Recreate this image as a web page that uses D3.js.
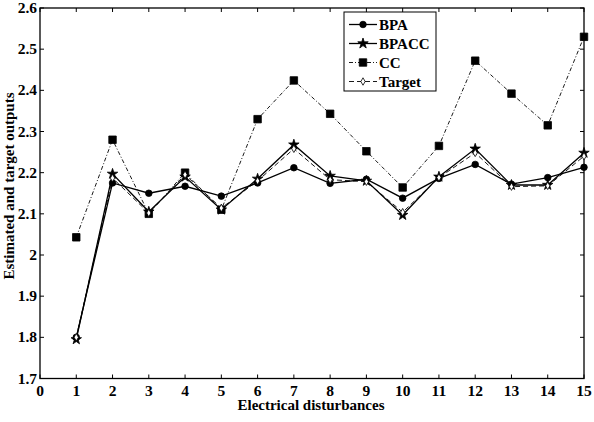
<!DOCTYPE html>
<html><head><meta charset="utf-8">
<script src="https://cdn.jsdelivr.net/npm/d3@7"></script>
<style>body{margin:0;background:#fff}svg{display:block}</style>
</head><body><svg id="c" width="594" height="422"></svg>
<script>
const xs = [1,2,3,4,5,6,7,8,9,10,11,12,13,14,15];
const bpa    = [1.800,2.175,2.150,2.167,2.143,2.175,2.212,2.174,2.184,2.138,2.186,2.220,2.172,2.188,2.213];
const bpacc  = [1.795,2.197,2.105,2.190,2.110,2.185,2.268,2.192,2.180,2.097,2.190,2.258,2.170,2.170,2.248];
const cc     = [2.043,2.280,2.100,2.200,2.110,2.330,2.424,2.343,2.252,2.164,2.265,2.472,2.392,2.315,2.530];
const target = [1.800,2.187,2.102,2.195,2.114,2.180,2.258,2.183,2.178,2.104,2.188,2.248,2.166,2.168,2.240];
const xTicks = d3.range(0,16);
const yTicks = [1.7,1.8,1.9,2,2.1,2.2,2.3,2.4,2.5,2.6];
const seriesNames = ["BPA","BPACC","CC","Target"];

const FONT = "'Liberation Serif', 'Times New Roman', serif";
const svg = d3.select("#c");
const L=40,R=584,T=8,B=378.5;
const x = d3.scaleLinear().domain([0,15]).range([L,R]);
const y = d3.scaleLinear().domain([1.7,2.6]).range([B,T]);

const g = svg.append("g").attr("font-family",FONT).attr("font-weight","bold");
const tl=4;
xTicks.forEach(t=>{
  g.append("line").attr("x1",x(t)).attr("x2",x(t)).attr("y1",B).attr("y2",B-tl).attr("stroke","#000");
  g.append("line").attr("x1",x(t)).attr("x2",x(t)).attr("y1",T).attr("y2",T+tl).attr("stroke","#000");
  g.append("text").attr("x",x(t)).attr("y",B+17).attr("text-anchor","middle").attr("font-size",15.5).text(t);
});
yTicks.forEach(t=>{
  g.append("line").attr("x1",L).attr("x2",L+tl).attr("y1",y(t)).attr("y2",y(t)).attr("stroke","#000");
  g.append("line").attr("x1",R).attr("x2",R-tl).attr("y1",y(t)).attr("y2",y(t)).attr("stroke","#000");
  g.append("text").attr("x",L-3).attr("y",y(t)+5).attr("text-anchor","end").attr("font-size",15.5).text(t===2?"2":d3.format(".1f")(t));
});
g.append("rect").attr("x",L).attr("y",T).attr("width",R-L).attr("height",B-T).attr("fill","none").attr("stroke","#000").attr("stroke-width",1.3);

g.append("text").attr("x",311).attr("y",410).attr("text-anchor","middle").attr("font-size",15).text("Electrical disturbances");
g.append("text").attr("transform",`translate(14,${186}) rotate(-90)`).attr("text-anchor","middle").attr("font-size",15).text("Estimated and target outputs");

const line = d3.line().x((d,i)=>x(xs[i])).y(d=>y(d));
const styles = [
  {data:bpa, dash:null, sym:d3.symbolCircle, size:34, fill:"#000", sw:1.3},
  {data:bpacc, dash:null, sym:d3.symbolStar, size:34, fill:"#000", sw:1.3},
  {data:cc, dash:"4,2,1,2", sym:d3.symbolSquare, size:56, fill:"#000", sw:0.9},
  {data:target, dash:"5,3", sym:d3.symbolDiamond, size:16, fill:"#fff", sw:0.9}
];
styles.forEach(s=>{
  g.append("path").attr("d",line(s.data)).attr("fill","none").attr("stroke","#000").attr("stroke-width",s.sw).attr("stroke-dasharray",s.dash);
});
styles.forEach(s=>{
  g.selectAll(null).data(s.data).enter().append("path")
    .attr("transform",(d,i)=>`translate(${x(xs[i])},${y(d)})`)
    .attr("d",d3.symbol().type(s.sym).size(s.size))
    .attr("fill",s.fill).attr("stroke","#000").attr("stroke-width",0.8);
});

const lg = svg.append("g").attr("font-family",FONT).attr("font-weight","bold");
lg.append("rect").attr("x",344).attr("y",12).attr("width",92).attr("height",79).attr("fill","#fff").attr("stroke","#000").attr("stroke-width",1);
seriesNames.forEach((n,i)=>{
  const yy = 24.5+i*19;
  const s = styles[i];
  lg.append("line").attr("x1",349).attr("x2",377).attr("y1",yy).attr("y2",yy).attr("stroke","#000").attr("stroke-width",s.sw).attr("stroke-dasharray",s.dash);
  lg.append("path").attr("transform",`translate(363,${yy})`).attr("d",d3.symbol().type(s.sym).size(s.size)).attr("fill",s.fill).attr("stroke","#000").attr("stroke-width",0.8);
  lg.append("text").attr("x",379).attr("y",yy+5).attr("font-size",15).text(n);
});
</script></body></html>
